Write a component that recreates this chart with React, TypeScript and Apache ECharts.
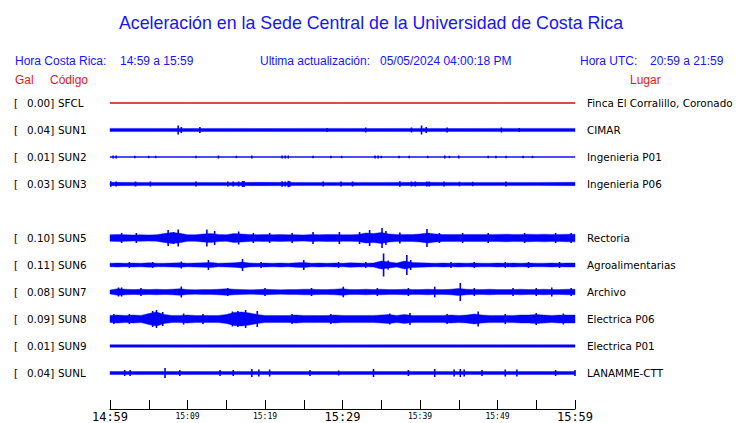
import React, { useEffect, useRef } from "react";
import * as echarts from "echarts";

// ---------- texts ----------
const TITLE = "Aceleración en la Sede Central de la Universidad de Costa Rica";
const HORA_CR_LABEL = "Hora Costa Rica:";
const HORA_CR = "14:59 a 15:59";
const UPDATE_LABEL = "Ultima actualización:";
const UPDATE_TIME = "05/05/2024 04:00:18 PM";
const HORA_UTC_LABEL = "Hora UTC:";
const HORA_UTC = "20:59 a 21:59";

// ---------- stations ----------
const codes = ["SFCL", "SUN1", "SUN2", "SUN3", "SUN5", "SUN6", "SUN7", "SUN8", "SUN9", "SUNL"];
const galValues = ["0.00", "0.04", "0.01", "0.03", "0.10", "0.11", "0.08", "0.09", "0.01", "0.04"];
const places = [
  "Finca El Corralillo, Coronado",
  "CIMAR",
  "Ingenieria P01",
  "Ingenieria P06",
  "Rectoria",
  "Agroalimentarias",
  "Archivo",
  "Electrica P06",
  "Electrica P01",
  "LANAMME-CTT",
];
// trace slot of each station (slot 4 is empty)
const slots = [0, 1, 2, 3, 5, 6, 7, 8, 9, 10];

// ---------- time axis (minutes after 14:59) ----------
const tickLabels = ["14:59", "", "15:09", "", "15:19", "", "15:29", "", "15:39", "", "15:49", "", "15:59"];
const majorLabels = ["14:59", "15:29", "15:59"];

// ---------- envelopes (half amplitude of the solid band, spread evenly over 0..60 min) ----------
const envSFCL = [0.5, 0.5, 0.5, 0.5, 0.5, 0.5, 0.5, 0.5, 0.5, 0.5, 0.5, 0.5, 0.5];
const envSUN1 = [1.6, 1.6, 1.5, 1.6, 1.5, 1.6, 1.6, 1.5, 1.6, 1.5, 1.6, 1.6, 1.6];
const envSUN2 = [0.5, 0.5, 0.5, 0.5, 0.5, 0.5, 0.5, 0.5, 0.5, 0.5, 0.5, 0.5, 0.5];
const envSUN3 = [1.7, 1.6, 1.6, 1.6, 1.7, 1.6, 1.6, 1.6, 1.7, 1.6, 1.6, 1.6, 1.7];
const envSUN5 = [
  3.3, 3.6, 3.3, 3.1, 3.3, 3.1, 3.3, 4.5, 5.5, 4.8, 3.3, 3.3, 4, 4.5, 3.6, 3.3, 4.5, 4, 3.5, 3.3,
  3.6, 3.3, 3.5, 3.3, 3.3, 3.1, 3.6, 3.3, 3.5, 3.6, 3.3, 3.3, 3.6, 5, 4.5, 5.5, 4, 3.6, 3.6, 3.5,
  4, 5, 4, 3.5, 3.6, 3.6, 3.5, 3.6, 3.6, 3.6, 3.6, 3.8, 3.6, 3.6, 3.8, 3.6, 3.8, 3.6, 3.6, 3.8, 3.8,
];
const envSUN6 = [
  1.8, 2, 1.8, 2, 1.8, 2.2, 1.8, 1.8, 2, 2.2, 1.8, 2, 2.2, 2.6, 1.8, 2, 2.2, 3, 2, 1.8,
  2, 1.8, 2, 1.8, 2.2, 2.6, 1.8, 2, 1.8, 2, 1.8, 2.2, 2, 1.8, 2, 4, 3, 2, 4, 2.6,
  2.2, 2, 1.8, 2, 1.8, 2, 1.8, 2, 1.8, 1.8, 2, 1.8, 2, 1.8, 2, 1.8, 1.8, 2, 1.8, 2, 2,
];
const envSUN7 = [
  2, 3.3, 2.8, 2.4, 2.8, 2.4, 2.8, 2.4, 2.8, 3.3, 2.4, 2.2, 2.4, 2.4, 2.8, 3.3, 2.8, 2.4, 2.2, 2.4,
  2.8, 2.4, 2.2, 2.4, 2.4, 2.8, 2.8, 2.4, 2.4, 2.8, 3.3, 2.4, 2.4, 2.8, 2.4, 2.8, 2.4, 2.4, 2.8, 2.4,
  2.4, 2.8, 2.4, 2.4, 2.8, 3.6, 2.8, 2.4, 2.4, 2.8, 2.4, 2.4, 2.4, 2.8, 2.4, 2.4, 2.8, 2.4, 2.4, 2.8, 2.8,
];
const envSUN8 = [
  3.6, 4, 3.6, 4, 3.6, 5.5, 7, 4.5, 3.6, 3.6, 4, 3.6, 3.4, 3.6, 3.6, 4.5, 6.5, 7, 6, 4.5,
  3.6, 3.6, 3.4, 3.6, 4, 3.6, 3.6, 3.4, 3.6, 4, 3.6, 3.6, 3.6, 3.6, 3.6, 4, 4.5, 3.6, 4.5, 3.6,
  3.6, 3.6, 3.6, 3.6, 4, 3.6, 4, 5, 4, 3.6, 3.6, 3.6, 3.6, 4, 4, 4.5, 4, 3.6, 4, 4, 4,
];
const envSUN9 = [1.3, 1.3, 1.2, 1.3, 1.3, 1.3, 1.2, 1.3, 1.3, 1.3, 1.3, 1.3, 1.3];
const envSUNL = [1.5, 1.5, 1.5, 1.4, 1.5, 1.5, 1.5, 1.5, 1.5, 1.4, 1.5, 1.5, 1.5];

// ---------- spikes [minute, half amplitude] ----------
const spkSFCL: number[][] = [];
const spkSUN1 = [[8.8, 4.5], [9.2, 3], [11.6, 3], [28, 2], [33, 2.5], [38.9, 2.5], [40.2, 4.5], [40.8, 3], [43.5, 2.5], [50.5, 2.5], [52.8, 2]];
const spkSUN2 = [
  [0.4, 1.5], [0.8, 1.5], [3.2, 1.2], [5, 1.2], [5.9, 1.2], [11.1, 1.2], [14, 1.5], [16.3, 1.2], [18.3, 1.5],
  [22.2, 1.5], [22.6, 1.5], [23, 1.5], [26.2, 1.2], [28.5, 1.2], [29.9, 1.2], [34.2, 1.5], [34.6, 1.5], [35, 1.2],
  [37.3, 1.2], [38.6, 1.2], [41, 1.2], [43.2, 1.5], [43.8, 1.2], [45, 1.5], [48.8, 1.2], [49.8, 1.2], [51.1, 1.2],
  [53.3, 1.2], [54.5, 1.2],
];
const spkSUN3 = [
  [0.1, 2.8], [0.8, 2.5], [3.3, 2.5], [5.2, 2.5], [11.1, 2.5], [15.2, 2.5], [15.9, 2.5], [16.6, 2.5], [17.1, 3],
  [17.3, 3], [22.2, 2.8], [22.6, 2.5], [23, 3.2], [23.2, 2.8], [27.5, 2.5], [29.8, 2.5], [31.3, 2.5], [37.4, 2.8],
  [38.9, 2.5], [39.4, 2.5], [40.9, 2.5], [41.2, 2.5], [43.1, 2.5], [45.1, 2.2], [46.8, 2.2], [51.1, 2.5],
];
const spkSUN5 = [
  [1.5, 5], [3.4, 5], [7.5, 8], [8.2, 6], [8.8, 8.5], [12.5, 8.5], [13.5, 7], [16.6, 6.5], [18.5, 5], [20.6, 5],
  [23.5, 5], [26.2, 6], [29.6, 6], [32.2, 6], [33.5, 8], [35.1, 10], [35.6, 7], [37.4, 5.5], [40.9, 9], [42.5, 5],
  [45.5, 5], [48.8, 5], [53.5, 5], [57.5, 5], [59.5, 5],
];
const spkSUN6 = [
  [2.5, 3], [5.5, 3], [9.2, 3.5], [12.7, 5], [17.1, 6], [19.5, 3], [25, 5], [29.5, 3], [33, 3], [35.3, 11.5],
  [35.9, 4.5], [38.3, 10], [38.8, 5], [44, 3], [47, 3], [51, 3], [54, 3], [58, 3],
];
const spkSUN7 = [
  [1.1, 4.5], [1.5, 4.5], [4, 4], [9.2, 5.5], [15.2, 4], [20, 4], [26, 4], [30.1, 5.3], [34.5, 4], [38.5, 4],
  [41.9, 5.3], [45.2, 9], [47, 4], [52, 4], [55, 4], [57, 4.5], [59.5, 4],
];
const spkSUN8 = [
  [0.5, 5], [2.5, 5], [5.5, 8], [6, 9], [6.8, 7], [9.5, 5.5], [12, 5], [15.8, 7.5], [16.5, 8], [17.5, 9],
  [19, 8], [23.5, 5], [28.5, 5], [36.1, 5.5], [38.7, 6], [43.5, 5], [47.5, 7.5], [51, 5], [55, 6], [58.5, 5.5],
];
const spkSUN9: number[][] = [];
const spkSUNL = [
  [1.9, 3], [2.6, 3], [7.1, 5], [9, 3], [14.2, 3], [15.9, 3], [18.3, 4], [19.2, 3.5], [20.6, 3.5], [25.8, 3],
  [29.5, 2.5], [34, 4], [38.5, 3], [41.9, 4], [44.4, 3.5], [45.2, 4], [45.7, 3.5], [48, 3], [51, 3.5], [52.5, 3.5],
  [57.5, 3], [60, 3],
];

const envelopes = [envSFCL, envSUN1, envSUN2, envSUN3, envSUN5, envSUN6, envSUN7, envSUN8, envSUN9, envSUNL];
const spikes = [spkSFCL, spkSUN1, spkSUN2, spkSUN3, spkSUN5, spkSUN6, spkSUN7, spkSUN8, spkSUN9, spkSUNL];

// ---------- style ----------
const BLUE = "#0000ff";
const TEXT_BLUE = "#1414ff";
const RED = "#f01414";
const SFCL_RED = "#c80000";
const PX_PER_SLOT = 27;
const GRID_TOP = 90;
const GRID_H = 319;
const FIRST_ROW_Y = 103;
const Y_MIN = (GRID_TOP - FIRST_ROW_Y) / PX_PER_SLOT;
const Y_MAX = (GRID_TOP + GRID_H - FIRST_ROW_Y) / PX_PER_SLOT;

function bandSeries(slot: number, env: number[], color: string) {
  const n = env.length;
  const data = env.map((a, i) => [(i * 60) / (n - 1), slot, a]);
  return {
    type: "custom",
    coordinateSystem: "cartesian2d",
    silent: true,
    data,
    encode: { x: 0, y: 1 },
    renderItem: (params: any, api: any) => {
      if (params.dataIndex !== 0) return null;
      const top: number[][] = [];
      const bot: number[][] = [];
      for (let i = 0; i < n; i++) {
        const t = data[i][0];
        const a = data[i][2] / PX_PER_SLOT;
        top.push(api.coord([t, slot - a]));
        bot.push(api.coord([t, slot + a]));
      }
      return {
        type: "polygon",
        shape: { points: top.concat(bot.reverse()) },
        style: { fill: color, stroke: color, lineWidth: 0.4 },
      };
    },
  };
}

function spikeSeries(slot: number, spk: number[][], color: string) {
  const data = spk.map((s) => [s[0], slot, s[1]]);
  return {
    type: "custom",
    coordinateSystem: "cartesian2d",
    silent: true,
    data,
    encode: { x: 0, y: 1 },
    renderItem: (params: any, api: any) => {
      const t = api.value(0);
      const a = api.value(2) / PX_PER_SLOT;
      const p1 = api.coord([t, slot - a]);
      const p2 = api.coord([t, slot + a]);
      return {
        type: "rect",
        shape: { x: p1[0] - 0.8, y: p1[1], width: 1.6, height: p2[1] - p1[1] },
        style: { fill: color },
      };
    },
  };
}

export default function App() {
  const ref = useRef<HTMLDivElement>(null);
  useEffect(() => {
    document.body.style.margin = "0";
    const chart = echarts.init(ref.current!, undefined, { renderer: "svg" });
    const series: any[] = [];
    slots.forEach((slot, k) => {
      const color = k === 0 ? SFCL_RED : BLUE;
      series.push(bandSeries(slot, envelopes[k], color));
      if (spikes[k].length) series.push(spikeSeries(slot, spikes[k], color));
    });

    const hdr = { fontFamily: "Liberation Sans", fontSize: 12 };
    const graphic: any[] = [
      { type: "text", x: 371, y: 23, style: { text: TITLE, fill: TEXT_BLUE, fontFamily: "Liberation Sans", fontSize: 17.8, align: "center", verticalAlign: "middle" } },
      { type: "text", x: 15, y: 61, style: { ...hdr, text: HORA_CR_LABEL, fill: TEXT_BLUE, verticalAlign: "middle" } },
      { type: "text", x: 120, y: 61, style: { ...hdr, text: HORA_CR, fill: TEXT_BLUE, verticalAlign: "middle" } },
      { type: "text", x: 260, y: 61, style: { ...hdr, text: UPDATE_LABEL, fill: TEXT_BLUE, verticalAlign: "middle" } },
      { type: "text", x: 380, y: 61, style: { ...hdr, text: UPDATE_TIME, fill: TEXT_BLUE, verticalAlign: "middle" } },
      { type: "text", x: 580, y: 61, style: { ...hdr, text: HORA_UTC_LABEL, fill: TEXT_BLUE, verticalAlign: "middle" } },
      { type: "text", x: 650, y: 61, style: { ...hdr, text: HORA_UTC, fill: TEXT_BLUE, verticalAlign: "middle" } },
      { type: "text", x: 15, y: 80, style: { ...hdr, text: "Gal", fill: RED, verticalAlign: "middle" } },
      { type: "text", x: 50, y: 80, style: { ...hdr, text: "Código", fill: RED, verticalAlign: "middle" } },
      { type: "text", x: 630, y: 80, style: { ...hdr, text: "Lugar", fill: RED, verticalAlign: "middle" } },
    ];
    const lbl = { fontFamily: "DejaVu Sans", fontSize: 10.4, fill: "#000", verticalAlign: "middle" };
    slots.forEach((slot, k) => {
      const y = FIRST_ROW_Y + slot * PX_PER_SLOT;
      graphic.push({ type: "text", x: 14, y, style: { ...lbl, text: "[" } });
      graphic.push({ type: "text", x: 27, y, style: { ...lbl, text: galValues[k] + "]" } });
      graphic.push({ type: "text", x: 58, y, style: { ...lbl, text: codes[k] } });
      graphic.push({ type: "text", x: 587, y, style: { ...lbl, text: places[k] } });
    });

    chart.setOption({
      animation: false,
      backgroundColor: "#ffffff",
      grid: { left: 110, width: 465, top: GRID_TOP, height: GRID_H },
      xAxis: {
        type: "value",
        position: "bottom",
        min: 0,
        max: 60,
        interval: 5,
        axisLine: { show: true, onZero: false, lineStyle: { color: "#000", width: 1 } },
        axisTick: { show: true, inside: true, length: 9, lineStyle: { color: "#000", width: 1 } },
        splitLine: { show: false },
        axisLabel: {
          margin: 1,
          showMinLabel: true,
          showMaxLabel: true,
          formatter: (v: number) => {
            const s = tickLabels[Math.round(v / 5)] || "";
            if (!s) return "";
            return majorLabels.includes(s) ? `{big|${s}}` : `{small|${s}}`;
          },
          rich: {
            big: { fontFamily: "DejaVu Sans Mono", fontSize: 12, lineHeight: 14, color: "#000" },
            small: { fontFamily: "DejaVu Sans Mono", fontSize: 8, lineHeight: 12, color: "#000" },
          },
        },
      },
      yAxis: {
        type: "value",
        inverse: true,
        min: Y_MIN,
        max: Y_MAX,
        show: false,
      },
      graphic,
      series,
    });
    return () => chart.dispose();
  }, []);
  return <div ref={ref} style={{ position: "absolute", left: 0, top: 0, width: 740, height: 423 }} />;
}
